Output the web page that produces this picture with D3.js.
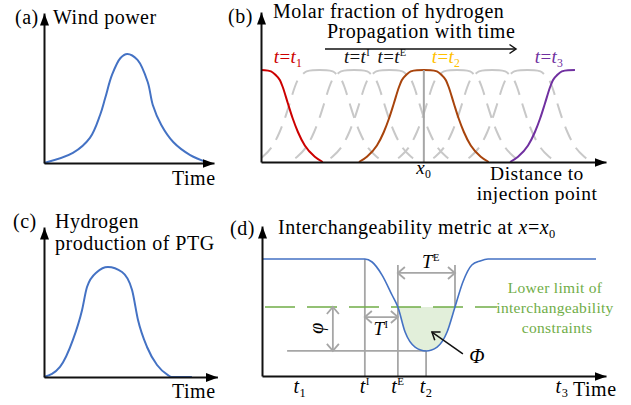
<!DOCTYPE html>
<html><head><meta charset="utf-8">
<script src="https://cdn.jsdelivr.net/npm/d3@7"></script>
<style>
html,body{margin:0;padding:0;background:#fff;}
svg{display:block;font-family:"Liberation Serif","Times New Roman",serif;}
</style></head><body>
<svg id="chart" width="631" height="405"></svg>
<script>
// ---------- DATA ----------
// (a) wind power vs time
const windTime  = [0, 1.7, 2.7, 3.3, 3.6, 4.0, 4.5, 4.9, 5.5, 6.1, 6.4, 6.9, 7.6, 8.6, 9.6];
const windPower = [0, 0.67, 1.67, 3.2, 4.33, 5.87, 7.0, 7.27, 6.87, 5.4, 3.87, 2.53, 1.4, 0.53, 0.05];
// (c) hydrogen production of PTG vs time
const ptgTime = [0, 0.94, 1.7, 2.24, 2.53, 3.12, 3.76, 4.59, 5.18, 5.53, 6.06, 6.65, 7.29, 7.5, 8.7];
const ptgProd = [0, 0.67, 2.47, 4.47, 6.0, 7.0, 7.33, 7.0, 5.8, 3.8, 2.0, 0.8, 0.13, 0, 0];
// (b) hydrogen pulse profile (offset from pulse centre, molar fraction level)
const pulseOffset = [0, 0.2, 0.38, 0.5, 0.64, 0.72, 0.87, 1.01, 1.16, 1.36, 1.65, 1.88];
const pulseLevel  = [6.13, 6.12, 6.04, 5.83, 5.45, 5.0, 3.9, 2.9, 2.0, 1.1, 0.35, 0];
const grayCenters = [1.7, 2.7, 3.72, 5.68, 6.7, 7.72];
const snapCenters = [-0.09, 4.72, 9.1];          // t1, t2, t3
const x0Pos = 4.72;
// (d) interchangeability metric at x = x0
const dTime   = [0, 2.99, 3.2, 3.49, 3.78, 3.95, 4.16, 4.45, 4.77, 5.09, 5.38, 5.61, 5.84, 6.1, 6.34, 6.57, 9.71];
const dMetric = [7.8, 7.8, 7.6, 6.73, 5.4, 4.6, 2.93, 1.93, 1.67, 1.93, 2.93, 4.6, 6.27, 7.4, 7.67, 7.8, 7.8];
const lowerLimit = 4.6;
const tickTimes = [1.1, 2.99, 3.95, 4.77, 8.72];
const tickMarks = [["sub","1"], ["sup","I"], ["sup","E"], ["sub","2"], ["sub","3"]];

// ---------- SETUP ----------
const svg = d3.select("#chart");
const defs = svg.append("defs");
defs.append("marker").attr("id","arrow").attr("viewBox","0 -5 12 10")
  .attr("refX",12).attr("refY",0).attr("markerWidth",12).attr("markerHeight",10)
  .attr("markerUnits","userSpaceOnUse").attr("orient","auto")
  .append("path").attr("d","M0,-4.5L12,0L0,4.5Z").attr("fill","#000");

const BLUE = "#4472c4", GRAY = "#a6a6a6", LGRAY = "#c8c8c8", GREEN = "#70ad47";

function txt(x, y, parts, opt = {}) {
  const size = opt.size || 20;
  const t = svg.append("text").attr("x", x).attr("y", y)
    .attr("font-size", size).attr("fill", opt.color || "#000")
    .attr("letter-spacing", opt.ls != null ? opt.ls : 0.5)
    .attr("text-anchor", opt.anchor || "start");
  if (opt.transform) t.attr("transform", opt.transform);
  let shift = 0;
  (typeof parts === "string" ? [{t: parts}] : parts).forEach(p => {
    const ts = t.append("tspan").text(p.t);
    let target = 0;
    if (p.i) ts.attr("font-style", "italic");
    if (p.sub) { ts.attr("font-size", size * 0.62); target = size * 0.22; }
    if (p.sup) { ts.attr("font-size", size * 0.55); target = -size * 0.38; }
    if (target !== shift) { ts.attr("dy", target - shift); shift = target; }
  });
  return t;
}

function axes(g, x, y) {
  g.append("g").attr("transform", `translate(0,${y.range()[0]})`)
    .call(d3.axisBottom(x).tickValues([]).tickSizeOuter(0))
    .select(".domain").attr("stroke", "#111").attr("stroke-width", 2).attr("marker-end", "url(#arrow)");
  g.append("g").attr("transform", `translate(${x.range()[0]},0)`)
    .call(d3.axisLeft(y).tickValues([]).tickSizeOuter(0))
    .select(".domain").attr("stroke", "#111").attr("stroke-width", 2).attr("marker-end", "url(#arrow)");
}

function chevron(g, x, y, ang, color, len, half, w) {
  const ax = Math.cos(ang), ay = Math.sin(ang);
  const bx = x - ax * len, by = y - ay * len, px = -ay * half, py = ax * half;
  g.append("path").attr("d", `M${bx+px},${by+py}L${x},${y}L${bx-px},${by-py}`)
    .attr("fill", "none").attr("stroke", color).attr("stroke-width", w);
}
function dblArrow(g, x1, y1, x2, y2, color) {
  g.append("line").attr("x1", x1).attr("y1", y1).attr("x2", x2).attr("y2", y2)
    .attr("stroke", color).attr("stroke-width", 1.8);
  const a = Math.atan2(y2 - y1, x2 - x1);
  chevron(g, x2, y2, a, color, 7, 6, 1.8);
  chevron(g, x1, y1, a + Math.PI, color, 7, 6, 1.8);
}

// ---------- PANEL (a) ----------
{
  const x = d3.scaleLinear([0, 10], [44, 214]);
  const y = d3.scaleLinear([0, 10], [163, 13]);
  const g = svg.append("g");
  g.append("path").datum(windTime.map((t, i) => [t, windPower[i]]))
    .attr("d", d3.line().x(d => x(d[0])).y(d => y(d[1])).curve(d3.curveCatmullRom.alpha(0.5)))
    .attr("fill", "none").attr("stroke", BLUE).attr("stroke-width", 2);
  axes(g, x, y);
  txt(15, 24, "(a)"); txt(53, 24, "Wind power"); txt(172, 185, "Time");
}

// ---------- PANEL (c) ----------
{
  const x = d3.scaleLinear([0, 10.2], [44, 217.4]);
  const y = d3.scaleLinear([0, 10], [377, 227]);
  const g = svg.append("g");
  g.append("path").datum(ptgTime.map((t, i) => [t, ptgProd[i]]))
    .attr("d", d3.line().x(d => x(d[0])).y(d => y(d[1])).curve(d3.curveMonotoneX))
    .attr("fill", "none").attr("stroke", BLUE).attr("stroke-width", 2);
  axes(g, x, y);
  txt(13, 228, "(c)"); txt(55, 228, "Hydrogen"); txt(55, 250, "production of PTG");
  txt(172, 398, "Time");
}

// ---------- PANEL (b) ----------
{
  const x = d3.scaleLinear([0, 10], [261, 606]);
  const y = d3.scaleLinear([0, 10], [162, 12]);
  const g = svg.append("g");
  defs.append("clipPath").attr("id", "clipB").append("rect")
    .attr("x", 261).attr("y", 0).attr("width", 350).attr("height", 163);
  const line = d3.line().x(d => x(d[0])).y(d => y(d[1])).curve(d3.curveMonotoneX);
  const n = pulseOffset.length;
  const left = c => d3.range(n - 1, -1, -1).map(i => [c - pulseOffset[i], pulseLevel[i]]);
  const right = c => d3.range(0, n).map(i => [c + pulseOffset[i], pulseLevel[i]]);
  const full = c => left(c).concat(right(c).slice(1));
  const pg = g.append("g").attr("clip-path", "url(#clipB)");

  // dashed gray pulses with a solid top hump
  const tmp = pg.append("path").attr("d", line(full(grayCenters[0])));
  const L = tmp.node().getTotalLength(); tmp.remove();
  function symDash(L, h, d, gap) {
    const out = [h]; let s = h, isGap = true;
    while (s < L / 2) { const v = isGap ? gap : d; out.push(v); s += v; isGap = !isGap; }
    const lft = out.slice().reverse(); lft[0] -= (s - L / 2);
    let arr = lft.slice(0, -1).concat([2 * h]).concat(out.slice(1));
    if ((out.length - 1) % 2 === 1) arr.unshift(0);
    return arr.join(",");
  }
  const dash = symDash(L, 17.5, 15, 9);
  pg.selectAll("path.gray").data(grayCenters).join("path").attr("class", "gray")
    .attr("d", c => line(full(c))).attr("fill", "none")
    .attr("stroke", LGRAY).attr("stroke-width", 2).attr("stroke-dasharray", dash);

  // x0 vertical
  g.append("line").attr("x1", x(x0Pos)).attr("x2", x(x0Pos))
    .attr("y1", y(pulseLevel[0])).attr("y2", y(0)).attr("stroke", GRAY).attr("stroke-width", 2);

  // coloured snapshots
  pg.append("path").attr("d", line(full(snapCenters[0]))).attr("fill", "none")
    .attr("stroke", "#cc0000").attr("stroke-width", 2);
  pg.append("path").attr("d", line(full(snapCenters[1]))).attr("fill", "none")
    .attr("stroke", "#a8440c").attr("stroke-width", 2);
  pg.append("path").attr("d", line(left(snapCenters[2]))).attr("fill", "none")
    .attr("stroke", "#7030a0").attr("stroke-width", 2);

  axes(g, x, y);

  txt(228, 23, "(b)");
  txt(273, 18, "Molar fraction of hydrogen");
  txt(327, 38, "Propagation with time");
  g.append("line").attr("x1", 325).attr("x2", 516).attr("y1", 49).attr("y2", 49)
    .attr("stroke", "#111").attr("stroke-width", 1.5);
  chevron(g, 516, 49, 0, "#111", 6.5, 4.5, 1.5);

  const lab = (cx, col, mark) => txt(cx, 63, [{t: "t", i: true}, {t: "="}, {t: "t", i: true},
    mark[0] === "sub" ? {t: mark[1], sub: true} : {t: mark[1], sup: true}],
    {anchor: "middle", color: col, size: 19, ls: 0.3});
  lab(288, "#cc0000", ["sub", "1"]);
  lab(357, "#111", ["sup", "I"]);
  lab(392, "#111", ["sup", "E"]);
  lab(446, "#ffc000", ["sub", "2"]);
  lab(549, "#7030a0", ["sub", "3"]);

  txt(x(x0Pos), 174, [{t: "x", i: true}, {t: "0", sub: true}], {anchor: "middle", size: 19});
  txt(537, 180, "Distance to", {anchor: "middle", size: 19.5});
  txt(537, 200, "injection point", {anchor: "middle", size: 19.5});
}

// ---------- PANEL (d) ----------
{
  const x = d3.scaleLinear([0, 10], [262, 606]);
  const y = d3.scaleLinear([0, 10], [376, 226]);
  const g = svg.append("g");
  const pts = dTime.map((t, i) => [t, dMetric[i]]);
  defs.append("clipPath").attr("id", "clipD").append("rect")
    .attr("x", 262).attr("y", y(lowerLimit)).attr("width", 344).attr("height", 376 - y(lowerLimit));
  g.append("path").datum(pts).attr("clip-path", "url(#clipD)")
    .attr("d", d3.area().x(d => x(d[0])).y0(y(lowerLimit)).y1(d => y(d[1])).curve(d3.curveMonotoneX))
    .attr("fill", "#e2efda");

  const vline = (t, a, b) => g.append("line").attr("x1", x(t)).attr("x2", x(t))
    .attr("y1", y(a)).attr("y2", y(b)).attr("stroke", GRAY).attr("stroke-width", 1.8);
  const tI = tickTimes[1], tE = tickTimes[2], t2 = tickTimes[3], tEnd = dTime[11];
  vline(tI, dMetric[1], 0);
  vline(tE, 7.4, 0);
  vline(tEnd, 7.4, lowerLimit);
  vline(t2, dMetric[8], 0);
  g.append("line").attr("x1", x(0.73)).attr("x2", x(t2)).attr("y1", y(dMetric[8])).attr("y2", y(dMetric[8]))
    .attr("stroke", GRAY).attr("stroke-width", 1.8);

  g.append("line").attr("x1", x(0) + 3).attr("x2", x(6.83)).attr("y1", y(lowerLimit)).attr("y2", y(lowerLimit))
    .attr("stroke", GREEN).attr("stroke-width", 1.6).attr("stroke-dasharray", "30,12");

  g.append("path").datum(pts)
    .attr("d", d3.line().x(d => x(d[0])).y(d => y(d[1])).curve(d3.curveMonotoneX))
    .attr("fill", "none").attr("stroke", BLUE).attr("stroke-width", 1.6);

  dblArrow(g, x(tE), y(6.87), x(tEnd), y(6.87), GRAY);
  dblArrow(g, x(tI), y(3.93), x(tE), y(3.93), GRAY);
  dblArrow(g, x(2.06), y(lowerLimit), x(2.06), y(dMetric[8]), GRAY);

  // Phi pointer
  g.append("line").attr("x1", x(5.84)).attr("y1", y(1.47)).attr("x2", x(4.94)).attr("y2", y(2.93))
    .attr("stroke", "#111").attr("stroke-width", 1.5);
  chevron(g, x(4.94), y(2.93), Math.atan2(y(2.93) - y(1.47), x(4.94) - x(5.84)), "#111", 7, 5, 1.5);

  axes(g, x, y);

  txt(230, 235, "(d)");
  txt(278, 234, [{t: "Interchangeability metric at "}, {t: "x", i: true}, {t: "="}, {t: "x", i: true}, {t: "0", sub: true}]);
  txt(x(4.91), 268, [{t: "T", i: true}, {t: "E", sup: true}], {anchor: "middle", size: 19});
  txt(x(3.46), 335, [{t: "T", i: true}, {t: "I", sup: true}], {anchor: "middle", size: 19});
  txt(0, 0, [{t: "φ", i: true}], {anchor: "middle", size: 20, transform: `translate(${x(1.6) + 6},${y(3.2)}) rotate(-90)`});
  txt(x(6.25), 363, [{t: "Φ", i: true}], {anchor: "middle", size: 20});

  txt(555, 293, "Lower limit of", {anchor: "middle", color: GREEN, size: 15.5, ls: 0.3});
  txt(555, 313, "interchangeability", {anchor: "middle", color: GREEN, size: 15.5, ls: 0.3});
  txt(557, 333, "constraints", {anchor: "middle", color: GREEN, size: 15.5, ls: 0.3});

  tickTimes.forEach((t, i) => {
    const m = tickMarks[i];
    txt(x(t), 393, [{t: "t", i: true}, m[0] === "sub" ? {t: m[1], sub: true} : {t: m[1], sup: true}],
      {anchor: "middle", size: 20});
  });
  txt(573, 396, "Time");
}
</script>
</body></html>
